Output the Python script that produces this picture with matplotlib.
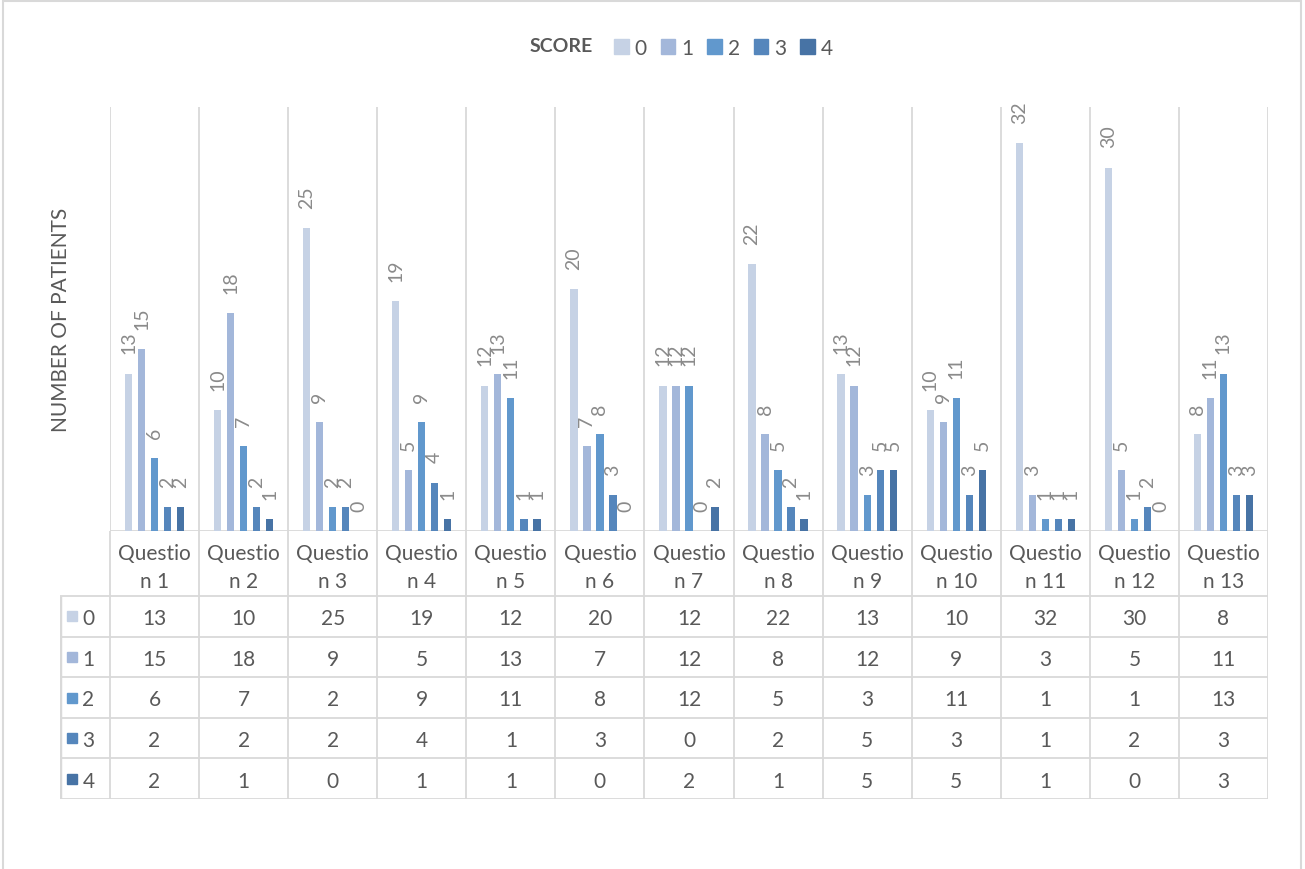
import numpy as np
import matplotlib.pyplot as plt
from matplotlib.patches import Patch, Rectangle

plt.rcParams['font.family'] = ['Lato', 'DejaVu Sans']

questions = ["Question 1", "Question 2", "Question 3", "Question 4", "Question 5",
             "Question 6", "Question 7", "Question 8", "Question 9", "Question 10",
             "Question 11", "Question 12", "Question 13"]
header_labels = ["Questio\nn " + q.split()[1] for q in questions]
scores = ["0", "1", "2", "3", "4"]
score0 = [13, 10, 25, 19, 12, 20, 12, 22, 13, 10, 32, 30, 8]
score1 = [15, 18, 9, 5, 13, 7, 12, 8, 12, 9, 3, 5, 11]
score2 = [6, 7, 2, 9, 11, 8, 12, 5, 3, 11, 1, 1, 13]
score3 = [2, 2, 2, 4, 1, 3, 0, 2, 5, 3, 1, 2, 3]
score4 = [2, 1, 0, 1, 1, 0, 2, 1, 5, 5, 1, 0, 3]
series = [score0, score1, score2, score3, score4]
colors = ["#c6d2e5", "#a3b7da", "#6198cd", "#5586bc", "#4773a5"]

W, H = 1305, 870
grid_c = "#d9d9d9"
text_c = "#595959"
label_c = "#8a8a8a"

fig = plt.figure(figsize=(W / 100, H / 100), dpi=100)

# outer frame
fig.add_artist(Rectangle((3 / W, -0.01), 1298 / W, 1.01 - 2 / H, transform=fig.transFigure,
                         fill=False, edgecolor=grid_c, lw=1.5))

# chart area
ax = fig.add_axes([110 / W, (H - 532) / H, 1158 / W, 424 / H])
n = len(questions)
ax.set_xlim(0, n)
ax.set_ylim(0, 35)
for s in ax.spines.values():
    s.set_visible(False)
ax.set_xticks([])
ax.set_yticks([])
ax.vlines(np.arange(n + 1), 0, 35, color=grid_c, lw=1.3, zorder=0)
ax.axhline(0, color=grid_c, lw=1.3, zorder=0)

step = 0.146
width = 0.082
x = np.arange(n) + 0.5
for i, vals in enumerate(series):
    xs = x + (i - 2) * step
    ax.bar(xs, vals, width, color=colors[i], zorder=2)
    for xi, v in zip(xs, vals):
        ax.annotate(str(v), (xi, v), xytext=(0, 14.5), textcoords='offset points',
                    rotation=90, ha='center', va='bottom', fontsize=14, color=label_c)

# data table below the chart
tax = fig.add_axes([60 / W, (H - 800) / H, 1208 / W, 268 / H])
left = -50 / (1158 / n)
tax.set_xlim(left, n)
tax.set_ylim(268, 0)
tax.axis('off')
rows_y = [65, 105.6, 146.2, 186.8, 227.4, 268]
tax.vlines(np.arange(n + 1), 0, 268, color=grid_c, lw=1.3)
tax.vlines(left, 65, 268, color=grid_c, lw=2.5)
tax.hlines(rows_y, left, n, color=grid_c, lw=1.3)

for j, h in enumerate(header_labels):
    tax.text(j + 0.5, 36, h, ha='center', va='center', fontsize=15, color=text_c,
             linespacing=1.5)

for i, vals in enumerate(series):
    yc = (rows_y[i] + rows_y[i + 1]) / 2 + 2
    tax.add_patch(Rectangle((left + 0.08, yc - 7), 0.115, 10, color=colors[i]))
    tax.text(left + 0.32, yc, scores[i], ha='center', va='center', fontsize=15, color=text_c)
    for j, v in enumerate(vals):
        tax.text(j + 0.5, yc, str(v), ha='center', va='center', fontsize=15, color=text_c)

fig.text(61 / W, (H - 320) / H, "NUMBER OF PATIENTS", rotation=90, ha='center', va='center',
         fontsize=15, color=text_c)

fig.text(561 / W, (H - 46) / H, "SCORE", ha='center', va='center', fontsize=14,
         fontweight='bold', color=text_c)
handles = [Patch(color=c, label=s) for c, s in zip(colors, scores)]
fig.legend(handles=handles, loc='center left', bbox_to_anchor=(614 / W, (H - 49) / H),
           ncol=5, frameon=False, handlelength=0.7, handleheight=0.7, handletextpad=0.3,
           columnspacing=0.65, fontsize=15, labelcolor=text_c, borderpad=0, borderaxespad=0)

fig.savefig("out.png", dpi=100)
